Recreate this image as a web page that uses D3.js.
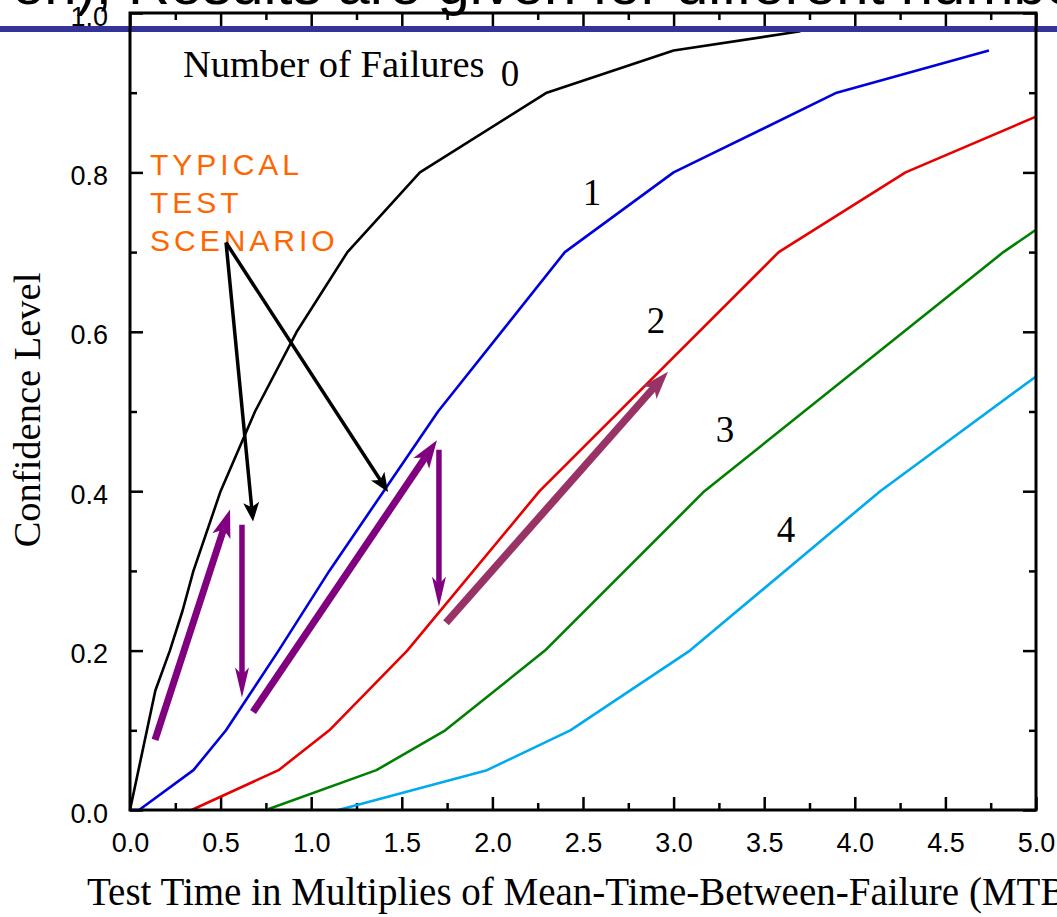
<!DOCTYPE html>
<html>
<head>
<meta charset="utf-8">
<script src="https://cdn.jsdelivr.net/npm/d3@7"></script>
<style>
  body { margin: 0; background: #fff; overflow: hidden; }
  svg { display: block; }
  .tick text { font-family: "Liberation Sans", Arial, sans-serif; font-size: 27px; fill: #000; }
  .tick line { stroke: #000; stroke-width: 2.5px; }
</style>
</head>
<body>
<div id="chart"></div>
<script>
// --- data ---
var failures = ["0", "1", "2", "3", "4"];

var time0 = [0, 0.14, 0.22, 0.29, 0.35, 0.5, 0.69, 0.92, 1.2, 1.6, 2.3, 3.0, 3.7];
var conf0 = [0, 0.15, 0.2, 0.25, 0.3, 0.4, 0.5, 0.6, 0.7, 0.8, 0.9, 0.953, 0.977];

var time1 = [0, 0.05, 0.35, 0.53, 0.82, 1.1, 1.4, 1.7, 2.4, 3.0, 3.9, 4.74];
var conf1 = [0, 0, 0.05, 0.1, 0.2, 0.3, 0.4, 0.5, 0.7, 0.8, 0.9, 0.953];

var time2 = [0.34, 0.82, 1.1, 1.53, 2.26, 3.58, 4.28, 5.0];
var conf2 = [0, 0.05, 0.1, 0.2, 0.4, 0.7, 0.8, 0.87];

var time3 = [0.75, 1.36, 1.74, 2.29, 3.17, 4.82, 5.0];
var conf3 = [0, 0.05, 0.1, 0.2, 0.4, 0.7, 0.728];

var time4 = [1.15, 1.97, 2.43, 3.09, 4.14, 5.0];
var conf4 = [0, 0.05, 0.1, 0.2, 0.4, 0.544];

var xTickLabels = ["0.0", "0.5", "1.0", "1.5", "2.0", "2.5", "3.0", "3.5", "4.0", "4.5", "5.0"];
var yTickLabels = ["0.0", "0.2", "0.4", "0.6", "0.8", "1.0"];

// curve number labels, in data units [time, confidence]
var labelAt = [[2.097, 0.908], [2.55, 0.759], [2.903, 0.599], [3.283, 0.462], [3.62, 0.336]];

// "typical test scenario" arrows, in data units
var scenarioArrows = [
    {kind: "upThick", from: [0.138, 0.088], to: [0.552, 0.377]},
    {kind: "down", from: [0.618, 0.358], to: [0.618, 0.141]},
    {kind: "upThick", from: [0.679, 0.123], to: [1.694, 0.464]},
    {kind: "down", from: [1.705, 0.452], to: [1.705, 0.255]},
    {kind: "mauve", from: [1.744, 0.235], to: [2.969, 0.550]}
];
var pointerFrom = [0.530, 0.712];
var pointerTo = [[0.679, 0.362], [1.424, 0.399]];

// --- chart ---
var W = 1057, H = 917;
var margin = {left: 130, right: 21, top: 13, bottom: 107};

var curveColors = ["#000000", "#0000dd", "#e60000", "#008000", "#00aaee"];
var arrowStyle = {
    upThick: {color: "#800080", width: 7, headLen: 28, headW: 19},
    down: {color: "#800080", width: 5.5, headLen: 30, headW: 14},
    mauve: {color: "#993366", width: 7.5, headLen: 28, headW: 19},
    pointer: {color: "#000000", width: 3.5, headLen: 19, headW: 16}
};

var svg = d3.select("#chart").append("svg")
    .attr("width", W).attr("height", H);

var xScale = d3.scaleLinear().domain([0, 5]).range([margin.left, W - margin.right]);
var yScale = d3.scaleLinear().domain([0, 1]).range([H - margin.bottom, margin.top]);

var x0 = xScale(0), x1 = xScale(5), y0 = yScale(0), y1 = yScale(1);

// header text cut off by the top of the slide
svg.append("text")
    .attr("x", 12).attr("y", 4)
    .style("font-family", "'Liberation Sans', Arial, sans-serif")
    .style("font-size", "58px")
    .text("en), Results are given for different numbers");

// axes (ticks point inward)
var xMajor = xTickLabels.map(Number);
var xMinor = d3.range(0.25, 5, 0.5);
var yMajor = yTickLabels.map(Number);
var yMinor = d3.range(0.1, 1, 0.2);

function plain(axis) { axis.select(".domain").remove(); }

svg.append("g").attr("transform", "translate(0," + y0 + ")")
    .call(d3.axisBottom(xScale).tickValues(xMajor).tickSize(-13).tickPadding(23)
        .tickFormat(function(d, i) { return xTickLabels[i]; }))
    .call(plain);
svg.append("g").attr("transform", "translate(0," + y0 + ")")
    .call(d3.axisBottom(xScale).tickValues(xMinor).tickSize(-7).tickFormat(""))
    .call(plain);
svg.append("g").attr("transform", "translate(0," + y1 + ")")
    .call(d3.axisTop(xScale).tickValues(xMajor).tickSize(-13).tickFormat(""))
    .call(plain);
svg.append("g").attr("transform", "translate(0," + y1 + ")")
    .call(d3.axisTop(xScale).tickValues(xMinor).tickSize(-7).tickFormat(""))
    .call(plain);

var yAx = svg.append("g").attr("transform", "translate(" + x0 + ",0)")
    .call(d3.axisLeft(yScale).tickValues(yMajor).tickSize(-13).tickPadding(22)
        .tickFormat(function(d, i) { return yTickLabels[i]; }))
    .call(plain);
yAx.selectAll("text").attr("dy", "0.45em");
svg.append("g").attr("transform", "translate(" + x0 + ",0)")
    .call(d3.axisLeft(yScale).tickValues(yMinor).tickSize(-7).tickFormat(""))
    .call(plain);
svg.append("g").attr("transform", "translate(" + x1 + ",0)")
    .call(d3.axisRight(yScale).tickValues(yMajor).tickSize(-13).tickFormat(""))
    .call(plain);
svg.append("g").attr("transform", "translate(" + x1 + ",0)")
    .call(d3.axisRight(yScale).tickValues(yMinor).tickSize(-7).tickFormat(""))
    .call(plain);

// curves
var series = [[time0, conf0], [time1, conf1], [time2, conf2], [time3, conf3], [time4, conf4]];
var line = d3.line()
    .x(function(d) { return xScale(d[0]); })
    .y(function(d) { return yScale(d[1]); });

series.forEach(function(s, i) {
    var pts = s[0].map(function(t, j) { return [t, s[1][j]]; });
    svg.append("path")
        .attr("d", line(pts))
        .attr("fill", "none")
        .attr("stroke", curveColors[i])
        .attr("stroke-width", 2.6)
        .attr("stroke-linejoin", "round");
});

// curve labels
var serif = "'Liberation Serif', 'Times New Roman', serif";
svg.selectAll(".num").data(failures).enter().append("text")
    .attr("x", function(d, i) { return xScale(labelAt[i][0]); })
    .attr("y", function(d, i) { return yScale(labelAt[i][1]); })
    .attr("text-anchor", "middle")
    .style("font-family", serif).style("font-size", "37px")
    .text(function(d) { return d; });

svg.append("text")
    .attr("x", 183).attr("y", 77)
    .style("font-family", serif).style("font-size", "38.5px")
    .text("Number of Failures");

// orange note
var note = svg.append("text")
    .style("font-family", "'Liberation Sans', Arial, sans-serif")
    .style("font-size", "30px")
    .style("letter-spacing", "4px")
    .attr("fill", "#ff6600");
["TYPICAL", "TEST", "SCENARIO"].forEach(function(t, i) {
    note.append("tspan").attr("x", 150).attr("y", 175 + i * 38).text(t);
});

// arrows
function drawArrow(from, to, st) {
    var ax = xScale(from[0]), ay = yScale(from[1]);
    var bx = xScale(to[0]), by = yScale(to[1]);
    var dx = bx - ax, dy = by - ay, len = Math.sqrt(dx * dx + dy * dy);
    var ux = dx / len, uy = dy / len, nx = -uy, ny = ux;
    var baseX = bx - ux * st.headLen, baseY = by - uy * st.headLen;
    var notchX = bx - ux * st.headLen * 0.75, notchY = by - uy * st.headLen * 0.75;
    svg.append("line")
        .attr("x1", ax).attr("y1", ay)
        .attr("x2", notchX).attr("y2", notchY)
        .attr("stroke", st.color).attr("stroke-width", st.width);
    var hw = st.headW / 2;
    svg.append("path")
        .attr("d", "M" + bx + "," + by +
            "L" + (baseX + nx * hw) + "," + (baseY + ny * hw) +
            "L" + notchX + "," + notchY +
            "L" + (baseX - nx * hw) + "," + (baseY - ny * hw) + "Z")
        .attr("fill", st.color);
}

scenarioArrows.forEach(function(a) { drawArrow(a.from, a.to, arrowStyle[a.kind]); });
pointerTo.forEach(function(p) { drawArrow(pointerFrom, p, arrowStyle.pointer); });

// slide rule line across the top
svg.append("rect")
    .attr("x", 0).attr("y", 26).attr("width", W).attr("height", 6)
    .attr("fill", "#333399");

// frame
svg.append("rect")
    .attr("x", x0).attr("y", y1)
    .attr("width", x1 - x0).attr("height", y0 - y1)
    .attr("fill", "none").attr("stroke", "#000").attr("stroke-width", 3);

// axis titles
svg.append("text")
    .attr("transform", "translate(40,410) rotate(-90)")
    .attr("text-anchor", "middle")
    .style("font-family", serif).style("font-size", "38.5px")
    .text("Confidence Level");

svg.append("text")
    .attr("x", 87).attr("y", 905)
    .style("font-family", serif).style("font-size", "39px")
    .text("Test Time in Multiplies of Mean-Time-Between-Failure (MTBF)");
</script>
</body>
</html>
